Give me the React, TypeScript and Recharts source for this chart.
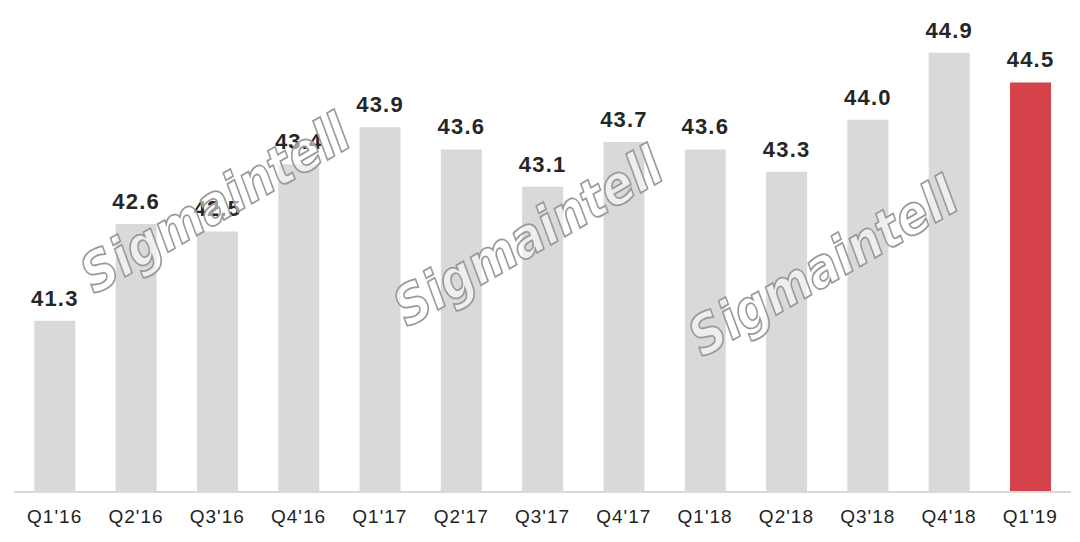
import { BarChart, Bar, XAxis, YAxis, Cell, LabelList } from "recharts";

const quarters = [
  "Q1'16", "Q2'16", "Q3'16", "Q4'16", "Q1'17", "Q2'17", "Q3'17",
  "Q4'17", "Q1'18", "Q2'18", "Q3'18", "Q4'18", "Q1'19",
];
const values = [41.3, 42.6, 42.5, 43.4, 43.9, 43.6, 43.1, 43.7, 43.6, 43.3, 44.0, 44.9, 44.5];
const highlight = "Q1'19";

const data = quarters.map((q, i) => ({ quarter: q, value: values[i] }));

const marks = [
  { x: 217, y: 207 },
  { x: 530, y: 240 },
  { x: 825, y: 270 },
];

const App = () => {
  return (
    <div style={{ position: "absolute", left: 0, top: 0, width: 1080, height: 542, background: "#fff" }}>
      <BarChart
        width={1080}
        height={542}
        data={data}
        margin={{ top: 8, right: 9, left: 14, bottom: 0 }}
        barCategoryGap="25%"
      >
        <XAxis
          dataKey="quarter"
          height={50}
          axisLine={{ stroke: "#d9d9d9", strokeWidth: 2 }}
          tickLine={false}
          tickSize={0}
          tickMargin={18}
          interval={0}
          tick={{ fill: "#222", fontSize: 19, letterSpacing: 1, fontFamily: "Liberation Sans, Arial, sans-serif" }}
        />
        <YAxis hide domain={[39, 45.5]} />
        <Bar dataKey="value" isAnimationActive={false}>
          {data.map((d) => (
            <Cell key={d.quarter} fill={d.quarter === highlight ? "#d7434a" : "#d9d9d9"} />
          ))}
          <LabelList
            dataKey="value"
            position="top"
            offset={15}
            formatter={(v: number) => v.toFixed(1)}
            style={{ fill: "#262626", fontSize: 22, fontWeight: "bold", letterSpacing: 1.2, fontFamily: "Liberation Sans, Arial, sans-serif" }}
          />
        </Bar>
      </BarChart>
      <svg width={1080} height={542} style={{ position: "absolute", left: 0, top: 0, pointerEvents: "none" }}>
        {marks.map((m, i) => (
          <text
            key={i}
            x={m.x}
            y={m.y}
            textAnchor="middle"
            dominantBaseline="middle"
            transform={`rotate(-30 ${m.x} ${m.y})`}
            fontFamily="DejaVu Sans, sans-serif"
            fontWeight="bold"
            fontStyle="italic"
            fontSize={54}
            textLength={300}
            lengthAdjust="spacingAndGlyphs"
            fill="rgba(255,255,255,0.55)"
            stroke="#9a9a9a"
            strokeWidth={1.8}
          >
            Sigmaintell
          </text>
        ))}
      </svg>
    </div>
  );
};

export default App;
